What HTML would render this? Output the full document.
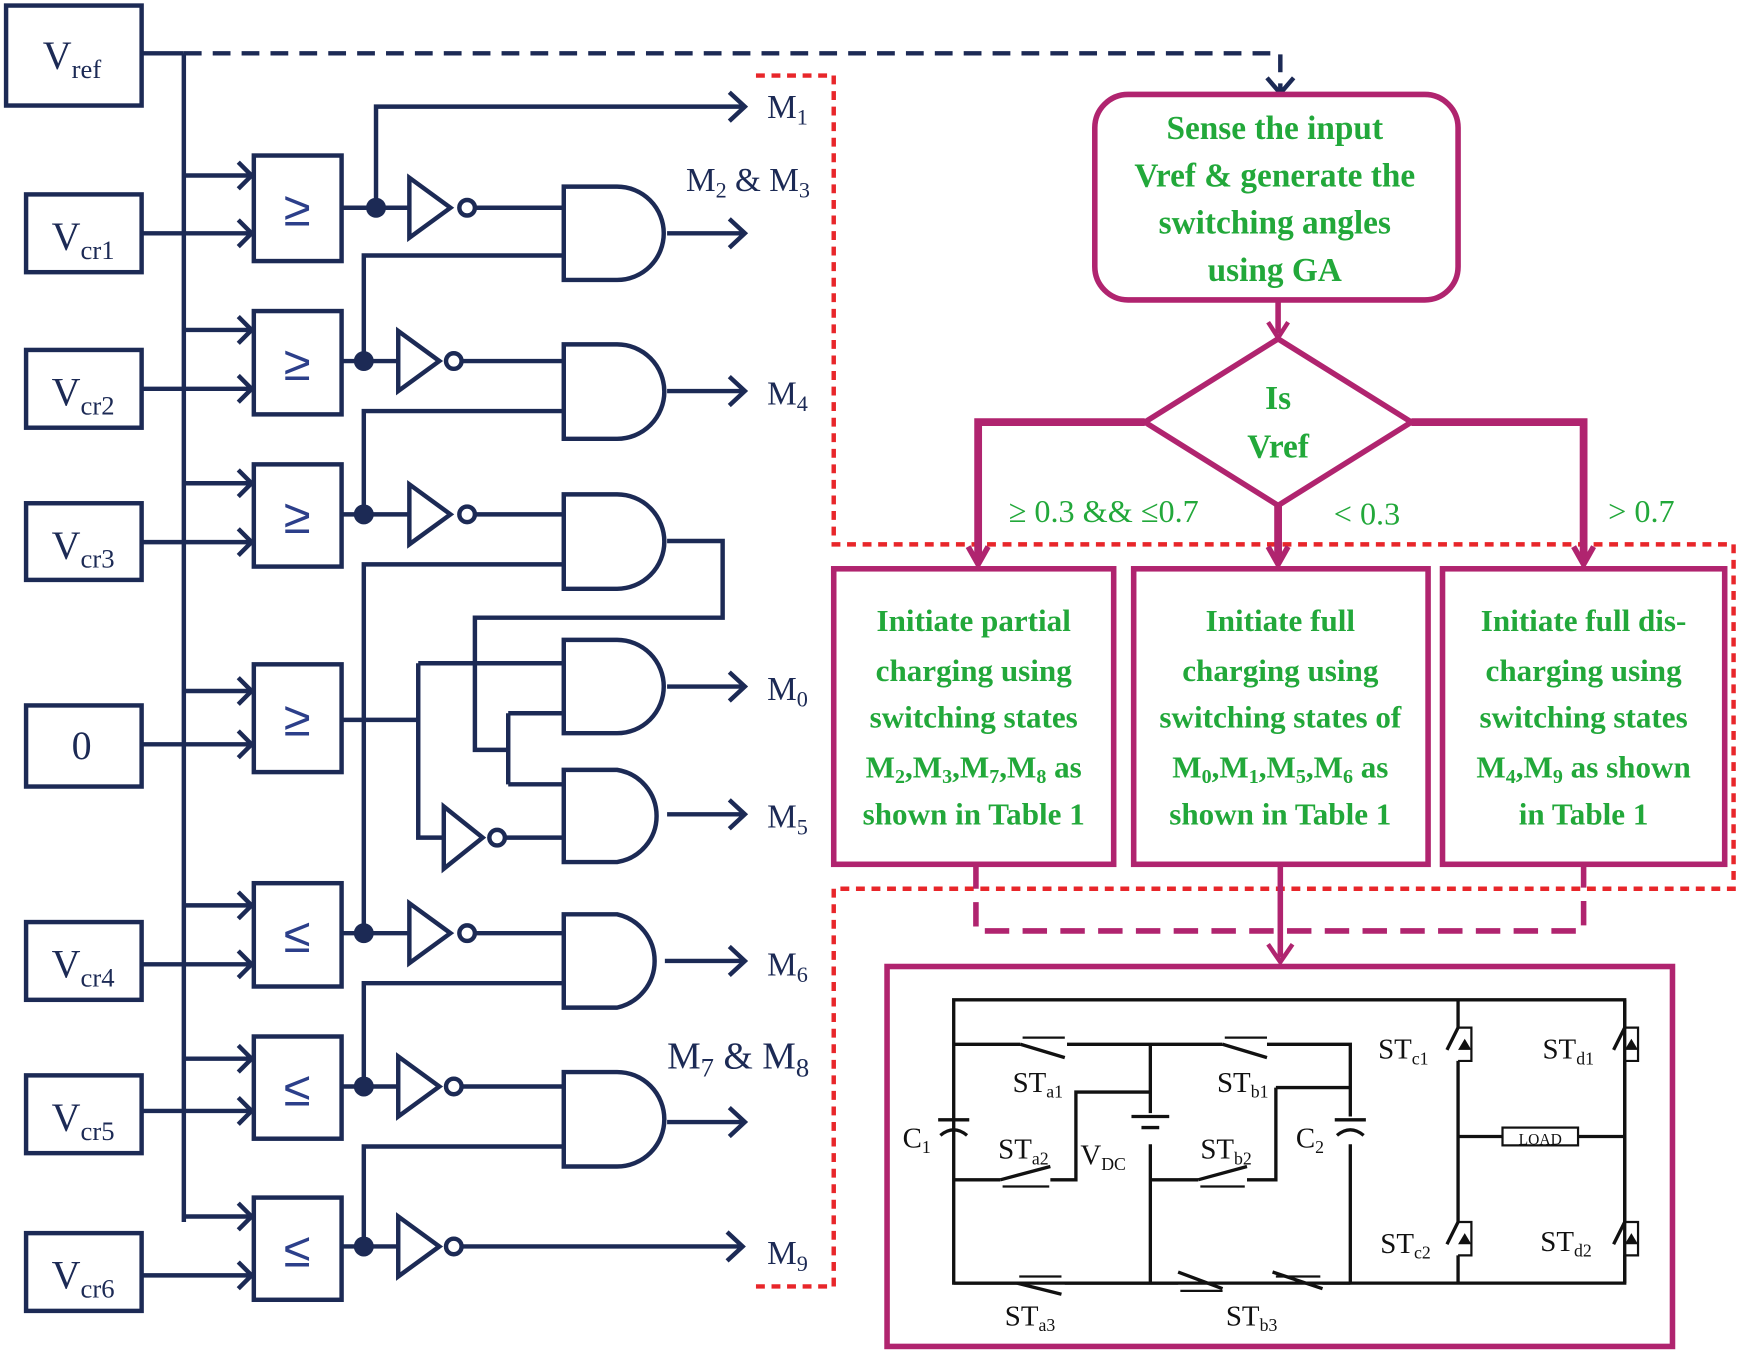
<!DOCTYPE html>
<html><head><meta charset="utf-8"><style>html,body{margin:0;padding:0;background:#fff}svg{display:block}</style></head>
<body>
<svg width="1743" height="1352" viewBox="0 0 1568 1217" xmlns="http://www.w3.org/2000/svg" font-family="Liberation Serif, serif">
<g fill="none" stroke="#1c2a55" stroke-width="4">
<rect x="5" y="5" width="122" height="90"/>
<path d="M127 48 H165" />
<path d="M165 48 H1152 V82" stroke-dasharray="16 10"/>
<path d="M1140 70 L1152 84 L1164 70"/>
<path d="M165 48 V1100"/>
<rect x="23" y="175" width="104" height="70"/>
<rect x="23" y="315" width="104" height="70"/>
<rect x="23" y="453" width="104" height="69"/>
<rect x="23" y="635" width="104" height="73"/>
<rect x="23" y="830" width="104" height="70"/>
<rect x="23" y="968" width="104" height="70"/>
<rect x="23" y="1110" width="104" height="70"/>
<rect x="228" y="140" width="79" height="95"/>
<rect x="228" y="280" width="79" height="93"/>
<rect x="228" y="418" width="79" height="92"/>
<rect x="228" y="598" width="79" height="97"/>
<rect x="228" y="795" width="79" height="93"/>
<rect x="228" y="933" width="79" height="92"/>
<rect x="228" y="1078" width="79" height="92"/>
<path d="M165 158H226 M127 210H226 M165 297H226 M127 350H226 M165 435H226 M127 488H226 M165 622H226 M127 670H226 M165 815H226 M127 868H226 M165 953H226 M127 1000H226 M165 1095H226 M127 1148H226"/>
<path d="M214 146l12 12l-12 12 M214 198l12 12l-12 12 M214 285l12 12l-12 12 M214 338l12 12l-12 12 M214 423l12 12l-12 12 M214 476l12 12l-12 12 M214 610l12 12l-12 12 M214 658l12 12l-12 12 M214 803l12 12l-12 12 M214 856l12 12l-12 12 M214 941l12 12l-12 12 M214 988l12 12l-12 12 M214 1083l12 12l-12 12 M214 1136l12 12l-12 12"/>
<path d="M307 187H368 M338 187V96H670 M428 187H507 M600 210H670"/>
<path d="M368 160V214L405 187Z"/><circle cx="420" cy="187" r="7"/>
<path d="M507 168H555A42 42 0 0 1 555 252H507Z"/>
<path d="M327 325V230H507"/>
<path d="M307 325H358 M415 325H507 M600 352H670"/>
<path d="M358 298V352L395 325Z"/><circle cx="408" cy="325" r="7"/>
<path d="M507 310H555A42 42 0 0 1 555 395H507Z"/>
<path d="M327 463V370H507"/>
<path d="M307 463H368 M428 463H507"/>
<path d="M368 436V490L405 463Z"/><circle cx="420" cy="463" r="7"/>
<path d="M507 445H555A42 42 0 0 1 555 530H507Z"/>
<path d="M600 487H650V556H427V675H457 M457 642V706 M457 642H507 M457 706H507"/>
<path d="M327 840V508H507"/>
<path d="M307 648H376 M376 597V754H399 M376 597H507 M455 754H507 M600 618H670 M600 733H670"/>
<path d="M507 576H555A42 42 0 0 1 555 660H507Z"/>
<path d="M507 693H555A42 42 0 0 1 555 776H507Z"/>
<path d="M399 726V782L434 754Z"/><circle cx="447" cy="754" r="7"/>
<path d="M307 840H368 M428 840H507 M598 865H670"/>
<path d="M368 813V867L405 840Z"/><circle cx="420" cy="840" r="7"/>
<path d="M507 823H555A43 43 0 0 1 555 907H507Z"/>
<path d="M327 978V885H507"/>
<path d="M307 978H358 M415 978H507 M600 1010H670"/>
<path d="M358 951V1005L395 978Z"/><circle cx="408" cy="978" r="7"/>
<path d="M507 965H555A42 42 0 0 1 555 1050H507Z"/>
<path d="M327 1122V1032H507"/>
<path d="M307 1122H358 M415 1122H668"/>
<path d="M358 1095V1149L395 1122Z"/><circle cx="408" cy="1122" r="7"/>
<path d="M656 83l14 13l-14 13 M656 197l14 13l-14 13 M656 339l14 13l-14 13 M656 605l14 13l-14 13 M656 720l14 13l-14 13 M656 852l14 13l-14 13 M656 997l14 13l-14 13 M654 1109l14 13l-14 13"/>
</g>
<g fill="#1c2a55">
<circle cx="338" cy="187" r="9"/><circle cx="327" cy="325" r="9"/><circle cx="327" cy="463" r="9"/>
<circle cx="327" cy="840" r="9"/><circle cx="327" cy="978" r="9"/><circle cx="327" cy="1122" r="9"/>
</g>
<g fill="#1c2a55" font-size="36">
<text x="38" y="62">V<tspan font-size="24" dy="8">ref</tspan></text>
<text x="46" y="225">V<tspan font-size="24" dy="8">cr1</tspan></text>
<text x="46" y="365">V<tspan font-size="24" dy="8">cr2</tspan></text>
<text x="46" y="503">V<tspan font-size="24" dy="8">cr3</tspan></text>
<text x="64" y="683">0</text>
<text x="46" y="880">V<tspan font-size="24" dy="8">cr4</tspan></text>
<text x="46" y="1018">V<tspan font-size="24" dy="8">cr5</tspan></text>
<text x="46" y="1160">V<tspan font-size="24" dy="8">cr6</tspan></text>
</g>
<g fill="#2c3f8a" font-size="44" text-anchor="middle" font-family="DejaVu Sans, sans-serif" font-weight="300">
<text x="267" y="203">≥</text>
<text x="267" y="342">≥</text>
<text x="267" y="480">≥</text>
<text x="267" y="662">≥</text>
<text x="267" y="857">≤</text>
<text x="267" y="995">≤</text>
<text x="267" y="1140">≤</text>
</g>
<g fill="#1c2a55" font-size="30">
<text x="690" y="106">M<tspan font-size="20" dy="6">1</tspan></text>
<text x="617" y="172">M<tspan font-size="20" dy="6">2</tspan><tspan dy="-6"> &amp; M</tspan><tspan font-size="20" dy="6">3</tspan></text>
<text x="690" y="364">M<tspan font-size="20" dy="6">4</tspan></text>
<text x="690" y="630">M<tspan font-size="20" dy="6">0</tspan></text>
<text x="690" y="745">M<tspan font-size="20" dy="6">5</tspan></text>
<text x="690" y="878">M<tspan font-size="20" dy="6">6</tspan></text>
<text x="600" y="962" font-size="34">M<tspan font-size="24" dy="7">7</tspan><tspan dy="-7"> &amp; M</tspan><tspan font-size="24" dy="7">8</tspan></text>
<text x="690" y="1138">M<tspan font-size="20" dy="6">9</tspan></text>
</g>
<path d="M680 68H750V490H1560V800H750V1158H680" fill="none" stroke="#e8262a" stroke-width="4" stroke-dasharray="8 6"/>
<g fill="none" stroke="#b0246f" stroke-width="5">
<rect x="985" y="85" width="327" height="185" rx="30"/>
<path d="M1150 270V300"/><path d="M1141 290L1150 304L1159 290" stroke-width="4"/>
<path d="M1150 305L1270 380L1150 455L1030 380Z"/>
<path d="M1030 380H880V505 M1270 380H1425V505 M1150 455V505" stroke-width="7"/>
<path d="M871 492L880 508L889 492 M1416 492L1425 508L1434 492 M1141 492L1150 508L1159 492" stroke-width="5"/>
<rect x="750" y="512" width="252" height="266"/>
<rect x="1020" y="512" width="265" height="266"/>
<rect x="1298" y="512" width="254" height="266"/>
<path d="M878 778V838H1425V778" stroke-dasharray="22 12"/>
<path d="M1152 778V862"/><path d="M1141 850L1152 866L1163 850" stroke-width="4"/>
<rect x="798" y="870" width="707" height="342"/>
</g>
<g fill="#22a83a" font-size="30" font-weight="bold" text-anchor="middle">
<text x="1147" y="125">Sense the input</text>
<text x="1147" y="168">Vref &amp; generate the</text>
<text x="1147" y="210">switching angles</text>
<text x="1147" y="253">using GA</text>
<text x="1150" y="368">Is</text>
<text x="1150" y="412">Vref</text>
<text x="993" y="470" font-weight="normal" font-size="29">≥ 0.3 &amp;&amp; ≤0.7</text>
<text x="1230" y="472" font-weight="normal" font-size="29">&lt; 0.3</text>
<text x="1477" y="470" font-weight="normal" font-size="29">&gt; 0.7</text>
<g font-size="28">
<text x="876" y="568">Initiate partial</text>
<text x="876" y="613">charging using</text>
<text x="876" y="655">switching states</text>
<text x="876" y="700">M<tspan font-size="18" dy="5">2</tspan><tspan dy="-5">,M</tspan><tspan font-size="18" dy="5">3</tspan><tspan dy="-5">,M</tspan><tspan font-size="18" dy="5">7</tspan><tspan dy="-5">,M</tspan><tspan font-size="18" dy="5">8</tspan><tspan dy="-5"> as</tspan></text>
<text x="876" y="742">shown in Table 1</text>
<text x="1152" y="568">Initiate full</text>
<text x="1152" y="613">charging using</text>
<text x="1152" y="655">switching states of</text>
<text x="1152" y="700">M<tspan font-size="18" dy="5">0</tspan><tspan dy="-5">,M</tspan><tspan font-size="18" dy="5">1</tspan><tspan dy="-5">,M</tspan><tspan font-size="18" dy="5">5</tspan><tspan dy="-5">,M</tspan><tspan font-size="18" dy="5">6</tspan><tspan dy="-5"> as</tspan></text>
<text x="1152" y="742">shown in Table 1</text>
<text x="1425" y="568">Initiate full dis-</text>
<text x="1425" y="613">charging  using</text>
<text x="1425" y="655">switching states</text>
<text x="1425" y="700">M<tspan font-size="18" dy="5">4</tspan><tspan dy="-5">,M</tspan><tspan font-size="18" dy="5">9</tspan><tspan dy="-5"> as shown</tspan></text>
<text x="1425" y="742">in Table 1</text>
</g>
</g>
<g fill="none" stroke="#111" stroke-width="3">
<path d="M858 900H1462V1155H858Z"/>
<path d="M858 940H918 M960 940H1100 M1140 940H1215V1005 M1215 1030V1155"/>
<path d="M1035 940V1002 M1035 1030V1155"/>
<path d="M1035 983H968V1062H945 M900 1062H858"/>
<path d="M1148 979H1215 M1148 979V1062H1122 M1078 1062H1035"/>
<path d="M858 1155H915 M958 1155H1060 M1190 1155H1215"/>
<path d="M1312 900V925 M1312 955V1100 M1312 1130V1155 M1462 900V925 M1462 955V1100 M1462 1130V1155"/>
<path d="M1312 1023H1352 M1420 1023H1462"/>
<rect x="1352" y="1015" width="68" height="16" stroke-width="2"/>
<path d="M918 940L958 952 M1100 940L1140 952 M900 1062L945 1050 M1078 1062L1122 1050 M915 1155L955 1165 M1060 1145L1100 1160 M1145 1145L1190 1160"/>
<path d="M920 934H958 M1102 934H1140 M902 1068H944 M1080 1068H1120 M917 1149H955 M1062 1162H1100 M1148 1149H1188" stroke-width="2"/>
<path d="M844 1008H872 M846 1022Q858 1012 870 1022 M1201 1008H1229 M1203 1022Q1215 1012 1227 1022"/>
<path d="M1018 1005H1052 M1027 1015H1043"/>
<path d="M1302 945L1312 925 M1452 945L1462 925 M1302 1120L1312 1100 M1452 1120L1462 1100"/>
<path d="M1312 925H1324V955H1312 M1462 925H1474V955H1462 M1312 1100H1324V1130H1312 M1462 1100H1474V1130H1462" stroke-width="2"/>
</g>
<g fill="#111">
<path d="M1318 935l-6 10h12z M1468 935l-6 10h12z M1318 1110l-6 10h12z M1468 1110l-6 10h12z"/>
</g>
<g fill="#111" font-size="26">
<text x="911" y="983">ST<tspan font-size="16" dy="5">a1</tspan></text>
<text x="1095" y="983">ST<tspan font-size="16" dy="5">b1</tspan></text>
<text x="898" y="1043">ST<tspan font-size="16" dy="5">a2</tspan></text>
<text x="972" y="1048">V<tspan font-size="16" dy="5">DC</tspan></text>
<text x="1080" y="1043">ST<tspan font-size="16" dy="5">b2</tspan></text>
<text x="812" y="1033">C<tspan font-size="16" dy="5">1</tspan></text>
<text x="1166" y="1033">C<tspan font-size="16" dy="5">2</tspan></text>
<text x="1240" y="953">ST<tspan font-size="16" dy="5">c1</tspan></text>
<text x="1388" y="953">ST<tspan font-size="16" dy="5">d1</tspan></text>
<text x="1242" y="1128">ST<tspan font-size="16" dy="5">c2</tspan></text>
<text x="1386" y="1126">ST<tspan font-size="16" dy="5">d2</tspan></text>
<text x="904" y="1193">ST<tspan font-size="16" dy="5">a3</tspan></text>
<text x="1103" y="1193">ST<tspan font-size="16" dy="5">b3</tspan></text>
<text x="1386" y="1030" font-size="14" text-anchor="middle">LOAD</text>
</g>
</svg>
</body></html>
